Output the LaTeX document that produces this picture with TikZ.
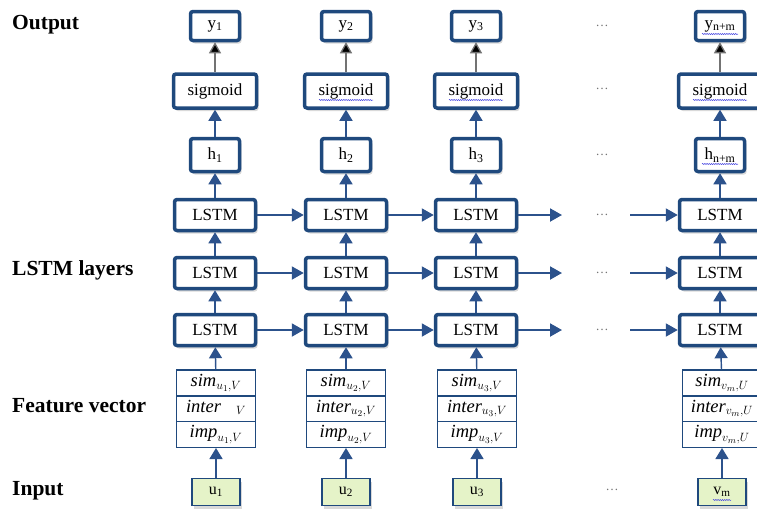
\documentclass[tikz,border=0pt]{standalone}
\usepackage{fontspec}
\setmainfont{Liberation Serif}
\usetikzlibrary{arrows.meta,shadows,calc,decorations.pathmorphing}
\definecolor{boxblue}{RGB}{31,73,125}
\definecolor{arrowblue}{RGB}{44,82,140}
\definecolor{inputgreen}{RGB}{229,243,200}
\definecolor{squigblue}{RGB}{70,70,225}

\tikzset{
  shade box/.style={drop shadow={opacity=0.3, shadow xshift=2pt, shadow yshift=-3pt}},
  thickbox/.style={draw=boxblue, line width=3.5pt, rounded corners=2.5pt, fill=white,
    inner sep=0pt, shade box, font=\fontsize{17}{20}\selectfont},
  lstmbox/.style={thickbox, minimum width=81pt, minimum height=31pt},
  sigbox/.style={thickbox, minimum width=83pt, minimum height=34pt},
  outbox/.style={thickbox, minimum width=49pt, minimum height=29pt},
  hidbox/.style={thickbox, minimum width=49pt, minimum height=33pt},
  featrow/.style={draw=boxblue, line width=1.5pt, fill=white, minimum width=79pt,
    minimum height=25.7pt, inner sep=0pt, font=\fontsize{18.5}{20}\selectfont},
  inbox/.style={draw=boxblue, line width=1.5pt, fill=inputgreen, minimum width=48pt,
    minimum height=27pt, inner sep=0pt, shade box, font=\fontsize{16}{18}\selectfont},
  rowlabel/.style={anchor=west, inner sep=0pt, font=\bfseries\fontsize{21.5}{24}\selectfont},
  dots/.style={text=black!55, font=\fontsize{13}{15}\selectfont},
  uparrow/.style={draw=arrowblue, line width=1.4pt, -{Triangle[width=13pt,length=11pt]}},
  sidearrow/.style={draw=arrowblue, line width=2pt, -{Triangle[width=13pt,length=12pt]}},
  outarrow/.style={draw=black!55, line width=1.3pt, -{Triangle[width=12pt,length=11pt,fill=black]}},
  squig/.style={draw=squigblue, line width=0.5pt, decorate,
    decoration={snake, amplitude=0.6pt, segment length=2.2pt}}
}

\begin{document}
\begin{tikzpicture}[x=1pt,y=-1pt]
\useasboundingbox (0,0) rectangle (757,509);

% row labels
\node[rowlabel] (lout)  at (12,25)  {Output};
\node[rowlabel] (llstm) at (12,270) {LSTM layers};
\node[rowlabel] (lfeat) at (12,406) {Feature vector};
\node[rowlabel] (linp)  at (12,491) {Input};

% the four visible time steps
\foreach \c/\cx/\fx/\ylab/\hlab/\inlab in {
    1/215/216/y\textsubscript{1}/h\textsubscript{1}/u\textsubscript{1},
    2/346/346/y\textsubscript{2}/h\textsubscript{2}/u\textsubscript{2},
    3/476/477/y\textsubscript{3}/h\textsubscript{3}/u\textsubscript{3},
    4/720/722/y\textsubscript{n+m}/h\textsubscript{n+m}/v\textsubscript{m}}{
  \node[outbox]  (y\c)  at (\cx,26)  {\ylab};
  \node[sigbox]  (s\c)  at (\cx,91)  {sigmoid};
  \node[hidbox]  (h\c)  at (\cx,155) {\hlab};
  \node[lstmbox] (la\c) at (\cx,215) {LSTM};
  \node[lstmbox] (lb\c) at (\cx,273) {LSTM};
  \node[lstmbox] (lc\c) at (\cx,330) {LSTM};
  \node[inbox]   (u\c)  at (\fx,492) {\inlab};
}

% feature vectors
\node[featrow] (fa1) at (216,383) {$\mathit{sim}_{u_1,V}$};
\node[featrow] (fb1) at (216,408.7) {$\mathit{inter}_{\phantom{u_1,}V}$};
\node[featrow] (fc1) at (216,434.4) {$\mathit{imp}_{u_1,V}$};
\node[featrow] (fa2) at (346,383) {$\mathit{sim}_{u_2,V}$};
\node[featrow] (fb2) at (346,408.7) {$\mathit{inter}_{u_2,V}$};
\node[featrow] (fc2) at (346,434.4) {$\mathit{imp}_{u_2,V}$};
\node[featrow] (fa3) at (477,383) {$\mathit{sim}_{u_3,V}$};
\node[featrow] (fb3) at (477,408.7) {$\mathit{inter}_{u_3,V}$};
\node[featrow] (fc3) at (477,434.4) {$\mathit{imp}_{u_3,V}$};
\node[featrow] (fa4) at (722,383) {$\mathit{sim}_{v_m,U}$};
\node[featrow] (fb4) at (722,408.7) {$\mathit{inter}_{v_m,U}$};
\node[featrow] (fc4) at (722,434.4) {$\mathit{imp}_{v_m,U}$};

% vertical flow in every column
\foreach \c in {1,2,3,4}{
  \draw[uparrow] (u\c) -- (fc\c);
  \draw[uparrow] (fa\c) -- (lc\c);
  \draw[uparrow] (lc\c) -- (lb\c);
  \draw[uparrow] (lb\c) -- (la\c);
  \draw[uparrow] (la\c) -- (h\c);
  \draw[uparrow] (h\c) -- (s\c);
  \draw[outarrow] (s\c) -- (y\c);
}

% recurrent connections along each layer
\foreach \r/\ry in {a/215,b/273,c/330}{
  \coordinate (e\r) at (562,\ry);
  \coordinate (b\r) at (630,\ry);
  \draw[sidearrow] (l\r1) -- (l\r2);
  \draw[sidearrow] (l\r2) -- (l\r3);
  \draw[sidearrow] (l\r3) -- (e\r);
  \draw[sidearrow] (b\r) -- (l\r4);
  \node[dots] (d\r) at (602,\ry) {\ldots};
}
\node[dots] (dy) at (602,26)  {\ldots};
\node[dots] (ds) at (602,89)  {\ldots};
\node[dots] (dh) at (602,155) {\ldots};
\node[dots] (du) at (612,490) {\ldots};

% spell-check underlines
\foreach \c in {2,3,4}{
  \draw[squig] ($(s\c.center)+(-27,9)$) -- ++(54,0);
}
\draw[squig] ($(y4.center)+(-18,8)$) -- ++(36,0);
\draw[squig] ($(h4.center)+(-18,9)$) -- ++(36,0);
\draw[squig] ($(u4.center)+(-9,8)$) -- ++(18,0);
\end{tikzpicture}
\end{document}
